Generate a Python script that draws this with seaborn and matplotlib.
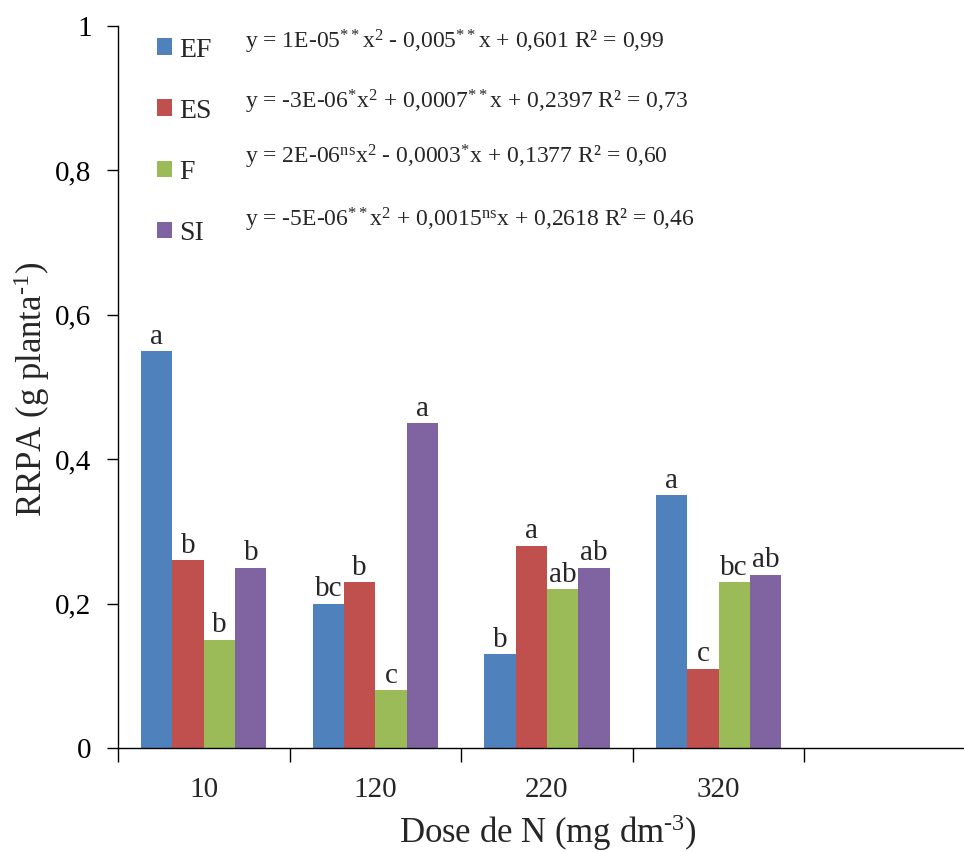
import matplotlib.pyplot as plt
import pandas as pd
import seaborn as sns

# data
doses = ['10', '120', '220', '320']
treatments = ['EF', 'ES', 'F', 'SI']
ef = [0.55, 0.20, 0.13, 0.35]
es = [0.26, 0.23, 0.28, 0.11]
f = [0.15, 0.08, 0.22, 0.23]
si = [0.25, 0.45, 0.25, 0.24]
letters = {
    'EF': ['a', 'bc', 'b', 'a'],
    'ES': ['b', 'b', 'a', 'c'],
    'F': ['b', 'c', 'ab', 'bc'],
    'SI': ['b', 'a', 'ab', 'ab'],
}
equations = [
    r'y = 1E-05$^{**}$x$^{2}$ - 0,005$^{**}$x + 0,601 R² = 0,99',
    r'y = -3E-06$^{*}$x$^{2}$ + 0,0007$^{**}$x + 0,2397 R² = 0,73',
    r'y = 2E-06$^{\mathrm{ns}}$x$^{2}$ - 0,0003$^{*}$x + 0,1377 R² = 0,60',
    r'y = -5E-06$^{**}$x$^{2}$ + 0,0015$^{\mathrm{ns}}$x + 0,2618 R² = 0,46',
]
colors = ['#4F81BD', '#C0504D', '#9BBB59', '#8064A2']

df = pd.DataFrame({
    'dose': doses * 4,
    'trat': [t for t in treatments for _ in doses],
    'val': ef + es + f + si,
})

sns.set_style('white')
plt.rcParams['font.family'] = ['Liberation Serif', 'DejaVu Serif']
plt.rcParams['mathtext.fontset'] = 'custom'
plt.rcParams['mathtext.rm'] = 'Liberation Serif'
plt.rcParams['mathtext.it'] = 'Liberation Serif'
plt.rcParams['mathtext.default'] = 'regular'

fig = plt.figure(figsize=(9.64, 8.52), dpi=100)
ax = fig.add_axes([118 / 964, 1 - 748 / 852, 858 / 964, 722 / 852])

sns.barplot(data=df, x='dose', y='val', hue='trat', order=doses,
            hue_order=treatments, palette=colors, width=0.73,
            saturation=1, ax=ax, linewidth=0)

for cont, t in zip(ax.containers, treatments):
    ax.bar_label(cont, labels=letters[t], padding=1, fontsize=21)

ax.set_xlim(-0.5, 4.5)
ax.set_ylim(0, 1)
ax.set_yticks([0, 0.2, 0.4, 0.6, 0.8, 1.0])
ax.set_yticklabels(['0', '0,2', '0,4', '0,6', '0,8', '1'], fontsize=21)
ax.set_xticks([-0.5, 0.5, 1.5, 2.5, 3.5, 4.5])
ax.set_xticklabels([])
for i, d in enumerate(doses):
    ax.text(i, -0.058, d, ha='center', va='center', fontsize=21,
            transform=ax.transData)
ax.tick_params(axis='y', direction='out', length=8, width=1, left=True,
               colors='black', pad=11)
ax.tick_params(axis='x', direction='out', length=10, width=1, bottom=True,
               colors='black')

for s in ['top', 'right']:
    ax.spines[s].set_visible(False)
for s in ['left', 'bottom']:
    ax.spines[s].set_color('black')
    ax.spines[s].set_linewidth(1)

ax.set_xlabel('')
ax.set_ylabel('')
fig.text(548 / 964, 1 - 833 / 852, r'Dose de N (mg dm$^{\text{-3}}$)',
         fontsize=25, ha='center', va='center')
fig.text(32 / 964, 1 - 389 / 852, r'RRPA (g planta$^{\text{-1}}$)',
         fontsize=25, ha='center', va='center', rotation=90)

ax.legend(loc='upper left', bbox_to_anchor=(0.045, 0.984), frameon=False,
          fontsize=20, labelspacing=1.3, handlelength=0.55,
          handleheight=0.55, handletextpad=0.25, borderpad=0,
          borderaxespad=0, title=None)

eq_y = [0.978, 0.895, 0.819, 0.731]
for eq, y in zip(equations, eq_y):
    ax.text(0.148, y, eq, transform=ax.transAxes, fontsize=17,
            ha='left', va='center')

fig.savefig('out.png', dpi=100)
